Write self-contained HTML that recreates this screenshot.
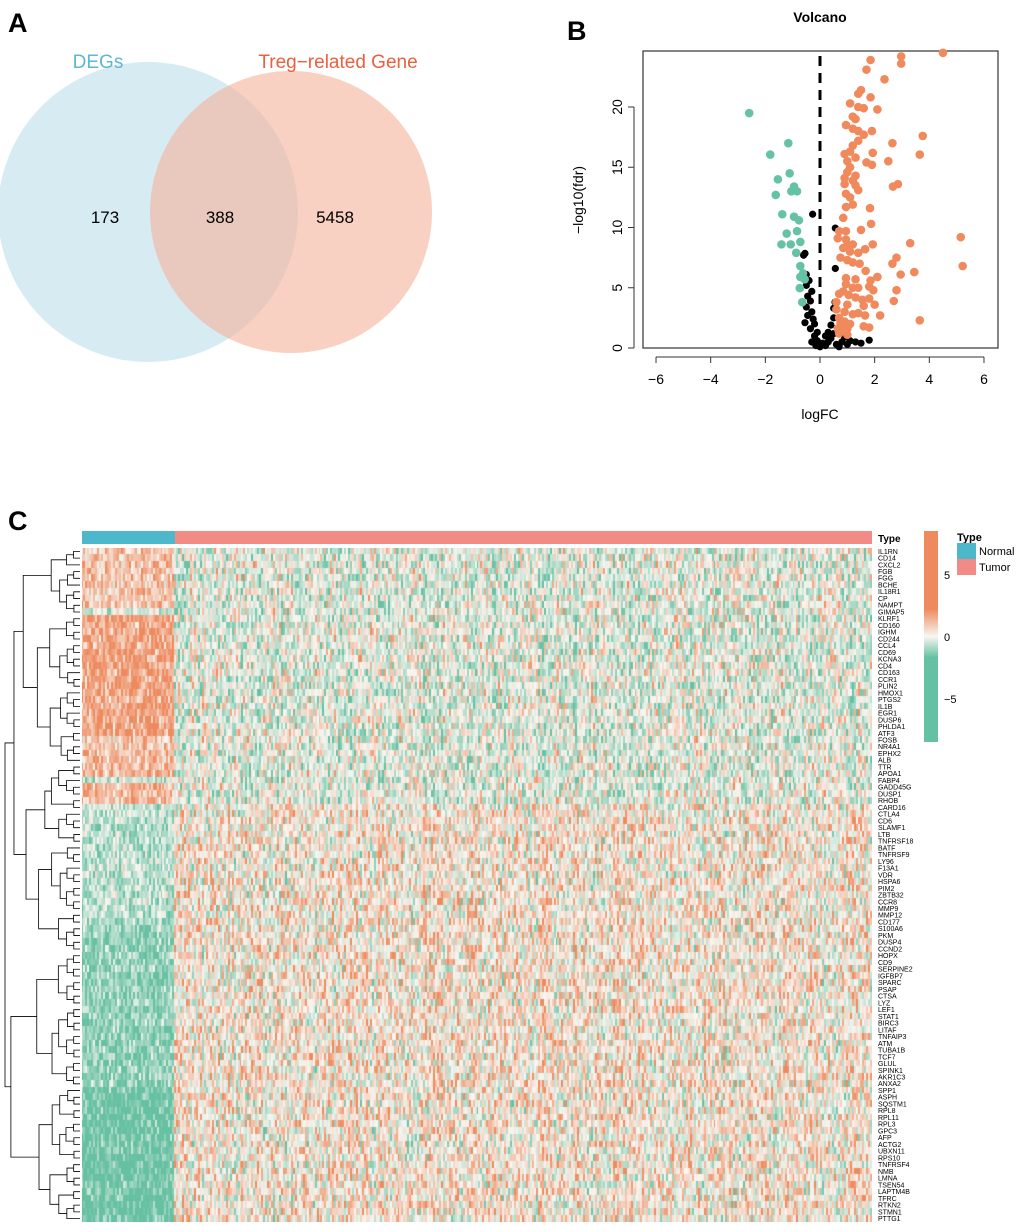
<!DOCTYPE html>
<html><head><meta charset="utf-8"><style>
body{margin:0;background:#fff;font-family:"Liberation Sans",sans-serif;}
#wrap{position:relative;width:1020px;height:1232px;overflow:hidden;}
svg{position:absolute;left:0;top:0;}
canvas{position:absolute;}
</style></head><body>
<div id="wrap">
<svg id="main" width="1020" height="1232">
  <text x="8" y="32" font-size="27" font-weight="bold">A</text>
  <text x="567" y="40" font-size="27" font-weight="bold">B</text>
  <text x="8" y="530" font-size="27" font-weight="bold">C</text>
  <g>
    <circle cx="148" cy="212" r="150" fill="#C4E2EE" fill-opacity="0.68"/>
    <circle cx="291" cy="212" r="141" fill="#F4B59C" fill-opacity="0.62"/>
    <text x="98" y="68" font-size="19" fill="#5DB8D3" text-anchor="middle">DEGs</text>
    <text x="338" y="68" font-size="19" fill="#EB5F3E" text-anchor="middle">Treg−related Gene</text>
    <text x="105" y="223" font-size="17" text-anchor="middle">173</text>
    <text x="220" y="223" font-size="17" text-anchor="middle">388</text>
    <text x="335" y="223" font-size="17" text-anchor="middle">5458</text>
  </g>
  <g id="volcano"></g>
  <g id="dendro"></g>
  <g id="hmlabels"></g>
  <rect x="82" y="531" width="93" height="13" fill="#4DB8CB"/>
  <rect x="175" y="531" width="697" height="13" fill="#F28A85"/>
  <text x="878" y="542" font-size="10" font-weight="bold">Type</text>
  <defs><linearGradient id="cb" x1="0" y1="0" x2="0" y2="1">
    <stop offset="0" stop-color="#EE8A5E"/><stop offset="0.37" stop-color="#EE8A5E"/>
    <stop offset="0.5" stop-color="#F8F6F1"/><stop offset="0.6" stop-color="#66C0A2"/><stop offset="1" stop-color="#66C0A2"/></linearGradient></defs>
  <rect x="924" y="531" width="14" height="211" fill="url(#cb)"/>
  <text x="944" y="579" font-size="11">5</text>
  <text x="944" y="641" font-size="11">0</text>
  <text x="944" y="703" font-size="11">−5</text>
  <text x="957" y="541" font-size="11" font-weight="bold">Type</text>
  <rect x="957" y="543" width="19" height="16" fill="#4DB8CB"/>
  <text x="979" y="555" font-size="11">Normal</text>
  <rect x="957" y="559" width="19" height="16" fill="#F28A85"/>
  <text x="979" y="571" font-size="11">Tumor</text>
</svg>
<canvas id="hm" width="790" height="674" style="left:82px;top:548px"></canvas>
</div>
<script>
// Volcano data
const greenX=[-2.59,-1.16,-1.82,-1.11,-1.54,-0.95,-1.05,-0.84,-1.62,-1.38,-0.95,-0.77,-1.22,-0.84,-1.41,-1.07,-0.72,-0.87,-0.72,-0.62,-0.72,-0.56,-0.74,-0.65];
const greenY=[19.5,17.0,16.05,14.5,14.0,13.4,13.0,13.0,12.7,11.1,10.9,10.6,9.5,9.7,8.6,8.6,8.8,7.9,6.8,6.2,5.9,5.7,4.97,3.8];
const orangeX=[4.5,2.97,2.97,1.85,1.7,2.36,1.5,1.4,1.85,1.1,1.4,2.1,1.6,1.2,1.3,0.95,1.2,1.4,1.9,1.6,1.4,2.65,3.76,3.65,1.2,1.1,0.9,1.93,1.3,1.0,2.5,1.7,1.9,1.1,1.0,1.3,0.9,1.2,0.9,1.3,1.4,2.67,2.85,0.95,1.1,1.2,0.95,1.83,0.85,1.87,0.7,0.95,1.5,0.65,0.95,1.0,1.2,0.85,1.1,1.4,1.65,1.93,3.3,5.15,0.75,1.0,1.2,1.45,2.8,2.65,5.22,1.67,3.45,2.95,2.1,0.95,1.3,1.85,0.95,1.2,1.4,1.8,1.95,2.8,0.85,1.05,0.7,1.3,1.55,1.8,0.6,1.0,1.6,2.0,2.7,0.6,0.9,1.2,1.4,1.65,2.2,0.7,0.9,1.1,1.6,1.8,3.65,0.65,0.8,1.0,0.7,1.0,0.85,0.75];
const orangeY=[24.5,24.2,23.6,23.9,23.1,22.3,21.4,21.1,20.8,20.3,20.0,19.8,19.9,19.2,19.0,18.5,18.2,18.0,18.0,17.7,17.2,17.0,17.6,16.05,16.8,16.3,16.1,16.2,15.8,15.5,15.5,15.4,15.2,15.0,14.6,14.3,14.1,13.9,13.6,13.5,13.1,13.4,13.6,12.8,12.5,11.9,11.7,11.6,10.8,10.3,9.7,9.7,9.8,9.1,9.0,8.5,8.6,8.3,8.0,7.9,8.2,8.6,8.7,9.2,7.5,7.3,7.1,7.0,7.5,7.0,6.8,6.4,6.3,6.1,5.9,5.8,5.7,5.6,5.3,5.0,5.0,5.1,4.8,4.8,4.7,4.4,4.5,4.2,4.0,4.1,3.8,3.6,3.5,3.6,3.9,3.2,3.0,2.8,2.9,2.7,2.7,2.5,2.2,2.0,1.8,1.7,2.3,1.6,1.4,1.6,1.2,1.1,1.9,2.1];
const blackX=[-0.27,0.56,0.56,-0.55,-0.6,-0.5,-0.4,-0.5,-0.3,-0.45,-0.35,-0.5,-0.3,-0.45,-0.25,-0.55,-0.2,-0.35,-0.1,-0.2,-0.1,0.1,0.2,0.3,0.4,0.5,0.4,0.5,0.5,0.55,0.6,0.8,1.0,1.3,1.8,1.5,0.0,-0.3,0.2,0.3,-0.15,0.7,1.1,0.9];
const blackY=[11.1,9.95,6.6,7.85,7.7,6.1,5.6,5.2,4.7,4.3,3.9,3.4,3.0,2.7,2.4,2.1,2.0,1.6,1.3,1.0,0.6,0.4,0.2,0.5,0.8,1.2,1.9,2.5,3.3,3.8,0.3,0.5,0.3,0.5,0.65,0.4,0.1,0.5,1.0,1.3,0.2,0.1,0.6,0.9];
const xTicks=[-6,-4,-2,0,2,4,6];
const yTicks=[0,5,10,15,20];
// Heatmap genes
const genes=["IL1RN","CD14","CXCL2","FGB","FGG","BCHE","IL18R1","CP","NAMPT","GIMAP5","KLRF1","CD160","IGHM","CD244","CCL4","CD69","KCNA3","CD4","CD163","CCR1","PLIN2","HMOX1","PTGS2","IL1B","EGR1","DUSP6","PHLDA1","ATF3","FOSB","NR4A1","EPHX2","ALB","TTR","APOA1","FABP4","GADD45G","DUSP1","RHOB","CARD16","CTLA4","CD6","SLAMF1","LTB","TNFRSF18","BATF","TNFRSF9","LY96","F13A1","VDR","HSPA6","PIM2","ZBTB32","CCR8","MMP9","MMP12","CD177","S100A6","PKM","DUSP4","CCND2","HOPX","CD9","SERPINE2","IGFBP7","SPARC","PSAP","CTSA","LYZ","LEF1","STAT1","BIRC3","LITAF","TNFAIP3","ATM","TUBA1B","TCF7","GLUL","SPINK1","AKR1C3","ANXA2","SPP1","ASPH","SQSTM1","RPL8","RPL11","RPL3","GPC3","AFP","ACTG2","UBXN11","RPS10","TNFRSF4","NMB","LMNA","TSEN54","LAPTM4B","TFRC","RTKN2","STMN1","PTTG1"];
const nNormal=47, nTumor=353;

const NS="http://www.w3.org/2000/svg";
function mk(parent,tag,attrs){const e=document.createElementNS(NS,tag);for(const k in attrs)e.setAttribute(k,attrs[k]);parent.appendChild(e);return e;}

// Volcano
const V=document.getElementById('volcano');
const sx=v=>820+v*27.33, sy=v=>348-v*12.05;
let fr=mk(V,'rect',{x:643,y:51,width:355,height:297,fill:'none',stroke:'#333','stroke-width':1.2});

let ttl=mk(V,'text',{x:820,y:22,'font-size':14,'font-weight':'bold','text-anchor':'middle'});ttl.textContent='Volcano';

let xax=mk(V,'line',{x1:sx(-6),x2:sx(6),y1:357,y2:357,stroke:'#333'});

xTicks.forEach(t=>{const l=mk(V,'line',{x1:sx(t),x2:sx(t),y1:357,y2:363,stroke:'#333'});
 
 const tx=mk(V,'text',{x:sx(t),y:384,'font-size':14,'text-anchor':'middle'});tx.textContent=t<0?'−'+(-t):t;
 });
let yax=mk(V,'line',{x1:634,x2:634,y1:sy(0),y2:sy(20),stroke:'#333'});

yTicks.forEach(t=>{const l=mk(V,'line',{x1:628,x2:634,y1:sy(t),y2:sy(t),stroke:'#333'});
 
 const tx=mk(V,'text',{x:622,y:sy(t),'font-size':14,'text-anchor':'middle',transform:`rotate(-90 622 ${sy(t)})`});tx.textContent=t;
 });
let xl=mk(V,'text',{x:820,y:419,'font-size':14,'text-anchor':'middle'});xl.textContent='logFC';

let yl=mk(V,'text',{x:583,y:200,'font-size':14,'text-anchor':'middle',transform:'rotate(-90 583 200)'});yl.textContent='−log10(fdr)';

function pts(X,Y,col,name,r){X.forEach((x,i)=>{const c=mk(V,'circle',{cx:sx(x),cy:sy(Y[i]),r:r,fill:col});
 });}
pts(blackX,blackY,'#000','point-not-significant',3.6);
pts(greenX,greenY,'#66C2A5','point-down',4.3);
pts(orangeX,orangeY,'#F08A5D','point-up',4.3);
let dl=mk(V,'line',{x1:sx(0),x2:sx(0),y1:56,y2:sy(3.5),stroke:'#000','stroke-width':3,'stroke-dasharray':'10,7'});


// Heatmap
const rowH=674/genes.length;
const L=document.getElementById('hmlabels');
genes.forEach((g,i)=>{const t=mk(L,'text',{x:878,y:548+(i+0.5)*rowH+2.4,'font-size':7});t.textContent=g;
 });
function hash(a,b){let h=(a*374761393+b*668265263)|0;h=(h^(h>>>13))*1274126177|0;h=h^(h>>>16);return ((h>>>0)%10000)/10000;}
function meanN(r){if(r<9)return 1.4;if(r===9)return -0.6;if(r<28)return 2.4;if(r<30)return 1.2;if(r===34)return -1;if(r<38)return 1.8;if(r<56)return -1.3;if(r<80)return -2.2;return -3.2;}
function meanT(r){return r<38?-0.45:0.45;}
const cO=[238,138,94],cW=[248,246,241],cT=[102,192,162];
function col(v){let a=cW,b,t;if(v>=0){b=cO;t=Math.min(1,v/3.2);}else{b=cT;t=Math.min(1,-v/3.2);}
 return `rgb(${a.map((x,k)=>Math.round(x+(b[k]-x)*t)).join(',')})`;}
const cv=document.getElementById('hm'),ctx=cv.getContext('2d');
const nc=nNormal+nTumor,cw=790/nc;
for(let r=0;r<genes.length;r++)for(let c=0;c<nc;c++){
 const colEff=(hash(c+101,17)-0.5)*1.6*(r<38?-1:1);
 const n=(hash(r+1,c+7)+hash(c+3,r*5+11)-1)*3.4;
 const v=(c<nNormal?meanN(r)+n*0.75:meanT(r)+n+colEff);
 ctx.fillStyle=col(v);ctx.fillRect(Math.floor(c*cw),Math.floor(r*rowH),Math.ceil(cw)+1,Math.ceil(rowH)+1);}

// Dendrogram
const D=document.getElementById('dendro');
function tree(a,b,depth){
 if(a===b)return {y:548+(a+0.5)*rowH,x:80};
 let m=a+Math.max(0,Math.min(b-a-1,Math.floor((b-a)*(0.3+0.4*hash(a,b)))));
 const L1=tree(a,m,depth+1),R1=tree(m+1,b,depth+1);
 const x=Math.max(5,Math.min(L1.x,R1.x)-(4+(b-a)*0.55*hash(b,a+3)+2));
 const p=mk(D,'path',{d:`M${L1.x},${L1.y}H${x}V${R1.y}H${R1.x}`,fill:'none',stroke:'#000','stroke-width':0.8});
 
 return {y:(L1.y+R1.y)/2,x:x};}
const root=tree(0,genes.length-1,0);
</script>
</body></html>
